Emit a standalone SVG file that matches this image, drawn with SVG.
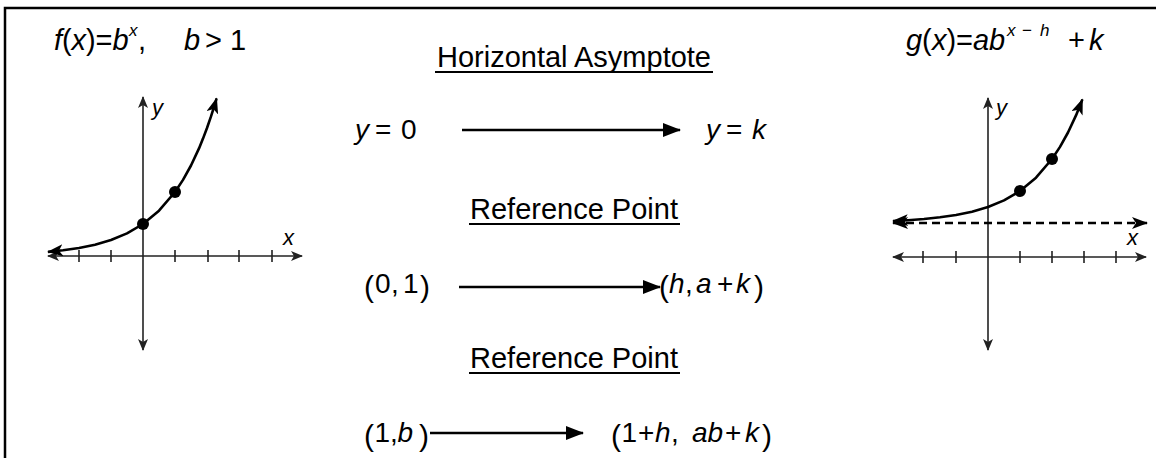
<svg xmlns="http://www.w3.org/2000/svg" width="1156" height="458" viewBox="0 0 1156 458">
<style>
text{font-family:"Liberation Sans",Arial,sans-serif;fill:#000}
.m{font-size:28px}
.t{font-size:29px}
.i{font-style:italic}
.sup{font-size:17px;font-style:italic}
.sm{font-size:17px}
.p{font-size:30px}
.h{font-size:29px}
.ax{stroke:#222;stroke-width:1.6;fill:none}
.tick{stroke:#222;stroke-width:1.6}
.crv{stroke:#000;stroke-width:2.6;fill:none;stroke-linejoin:round}
.dash{stroke:#000;stroke-width:2.6;stroke-dasharray:8 5;fill:none}
.conn{stroke:#000;stroke-width:2.6;fill:none}
.ul{stroke:#000;stroke-width:2}
.lbl{font-size:22px;font-style:italic}
</style>
<defs>
<marker id="axArrow" viewBox="0 0 12 10" refX="11" refY="5" markerWidth="12" markerHeight="10" markerUnits="userSpaceOnUse" orient="auto-start-reverse"><path d="M0,0 L12,5 L0,10 L3,5 z" fill="#222"/></marker>
<marker id="crvArrow" viewBox="0 0 16 12" refX="15" refY="6" markerWidth="16" markerHeight="12" markerUnits="userSpaceOnUse" orient="auto-start-reverse"><path d="M0,0 L16,6 L0,12 L4,6 z" fill="#000"/></marker>
<marker id="cArrow" viewBox="0 0 18 14" refX="17" refY="7" markerWidth="18" markerHeight="14" markerUnits="userSpaceOnUse" orient="auto"><path d="M0,0 L18,7 L0,14 z" fill="#000"/></marker>
</defs>
<rect width="1156" height="458" fill="#fff"/>
<path d="M5,458 V8 H1156" stroke="#000" stroke-width="2.5" fill="none"/>

<g id="title-f">
<text class="t" y="50"><tspan x="54" class="i">f</tspan><tspan x="62">(</tspan><tspan x="71.5" class="i">x</tspan><tspan x="86">)</tspan><tspan x="95.5">=</tspan><tspan x="112.5" class="i">b</tspan><tspan x="129" y="36" class="sup">x</tspan><tspan x="138" y="50">,</tspan><tspan x="184" class="i">b</tspan><tspan x="205">&gt;</tspan><tspan x="230">1</tspan></text>
</g>

<g id="title-g">
<text class="t" y="50"><tspan x="906" class="i">g</tspan><tspan x="922">(</tspan><tspan x="932" class="i">x</tspan><tspan x="946.5">)</tspan><tspan x="956">=</tspan><tspan x="973" class="i">a</tspan><tspan x="989" class="i">b</tspan><tspan x="1007" y="36" class="sup">x</tspan><tspan x="1022" y="36" class="sm">−</tspan><tspan x="1040" y="36" class="sup">h</tspan><tspan x="1068" y="50">+</tspan><tspan x="1089" class="i">k</tspan></text>
</g>

<g id="left-graph">
<line class="ax" x1="48" y1="256" x2="302" y2="256" marker-start="url(#axArrow)" marker-end="url(#axArrow)"/>
<line class="ax" x1="143" y1="350" x2="143" y2="97" marker-start="url(#axArrow)" marker-end="url(#axArrow)"/>
<path class="tick" d="M79,250V262M111,250V262M175,250V262M208,250V262M239,250V262M272,250V262"/>
<polyline class="crv" marker-start="url(#crvArrow)" marker-end="url(#crvArrow)" points="48,251.9 63,250.3 79,248 95,244.7 111,240 127,233.4 143,224 159,210.7 175,192 183,179.9 191,165.5 199,148.4 203,138.6 207,128 211,116.4 215,103.8 216.6,98.4"/>
<circle cx="143" cy="224" r="6"/>
<circle cx="175" cy="192" r="6"/>
<text class="lbl" x="152" y="115">y</text>
<text class="lbl" x="283" y="245">x</text>
</g>

<g id="right-graph">
<line class="ax" x1="893" y1="257" x2="1146" y2="257" marker-start="url(#axArrow)" marker-end="url(#axArrow)"/>
<line class="ax" x1="988" y1="350" x2="988" y2="98" marker-start="url(#axArrow)" marker-end="url(#axArrow)"/>
<path class="tick" d="M923,251V263M956,251V263M1020,251V263M1052,251V263M1084,251V263M1116,251V263"/>
<line class="dash" x1="893" y1="223" x2="1147" y2="223" marker-start="url(#crvArrow)" marker-end="url(#crvArrow)"/>
<polyline class="crv" marker-start="url(#crvArrow)" marker-end="url(#crvArrow)" points="893,221 908,220.2 924,219 940,217.3 956,215 972,211.7 988,207 1004,200.4 1020,191 1036,177.7 1052,159 1060,146.9 1068,132.5 1076,115.4 1080,105.6 1082.4,99.4"/>
<circle cx="1020" cy="191" r="6"/>
<circle cx="1052" cy="159" r="6"/>
<text class="lbl" x="996" y="115">y</text>
<text class="lbl" x="1127" y="245">x</text>
</g>

<g id="heading-asymptote">
<text class="h" x="574" y="67" text-anchor="middle">Horizontal Asymptote</text>
<line class="ul" x1="435" y1="72" x2="713" y2="72"/>
</g>

<g id="heading-ref1">
<text class="h" x="574" y="219" text-anchor="middle">Reference Point</text>
<line class="ul" x1="469" y1="224" x2="680" y2="224"/>
</g>

<g id="heading-ref2">
<text class="h" x="574" y="368" text-anchor="middle">Reference Point</text>
<line class="ul" x1="469" y1="373" x2="680" y2="373"/>
</g>

<g id="node-y0">
<text class="m" y="139"><tspan x="355" class="i">y</tspan><tspan x="375">=</tspan><tspan x="401">0</tspan></text>
</g>
<g id="node-yk">
<text class="m" y="139"><tspan x="706" class="i">y</tspan><tspan x="726">=</tspan><tspan x="752" class="i">k</tspan></text>
</g>

<g id="node-01">
<text class="p" x="364" y="297">(</text>
<text class="m" y="293"><tspan x="375">0</tspan><tspan x="391">,</tspan><tspan x="403">1</tspan></text>
<text class="p" x="420" y="297">)</text>
</g>
<g id="node-hak">
<text class="p" x="659" y="297">(</text>
<text class="m" y="293"><tspan x="669" class="i">h</tspan><tspan x="685">,</tspan><tspan x="696" class="i">a</tspan><tspan x="717">+</tspan><tspan x="736" class="i">k</tspan></text>
<text class="p" x="754" y="297">)</text>
</g>

<g id="node-1b">
<text class="p" x="364" y="446">(</text>
<text class="m" y="442"><tspan x="374.5">1</tspan><tspan x="390">,</tspan><tspan x="397.5" class="i">b</tspan></text>
<text class="p" x="419" y="446">)</text>
</g>
<g id="node-1hk">
<text class="p" x="611" y="446">(</text>
<text class="m" y="442"><tspan x="621.5">1</tspan><tspan x="638">+</tspan><tspan x="655" class="i">h</tspan><tspan x="671">,</tspan><tspan x="692" class="i">a</tspan><tspan x="707.6" class="i">b</tspan><tspan x="725">+</tspan><tspan x="745" class="i">k</tspan></text>
<text class="p" x="762" y="446">)</text>
</g>

<g id="connectors">
<line class="conn" x1="462" y1="130" x2="680" y2="130" marker-end="url(#cArrow)"/>
<line class="conn" x1="459" y1="287" x2="660" y2="287" marker-end="url(#cArrow)"/>
<line class="conn" x1="430" y1="433" x2="583" y2="433" marker-end="url(#cArrow)"/>
</g>
</svg>
